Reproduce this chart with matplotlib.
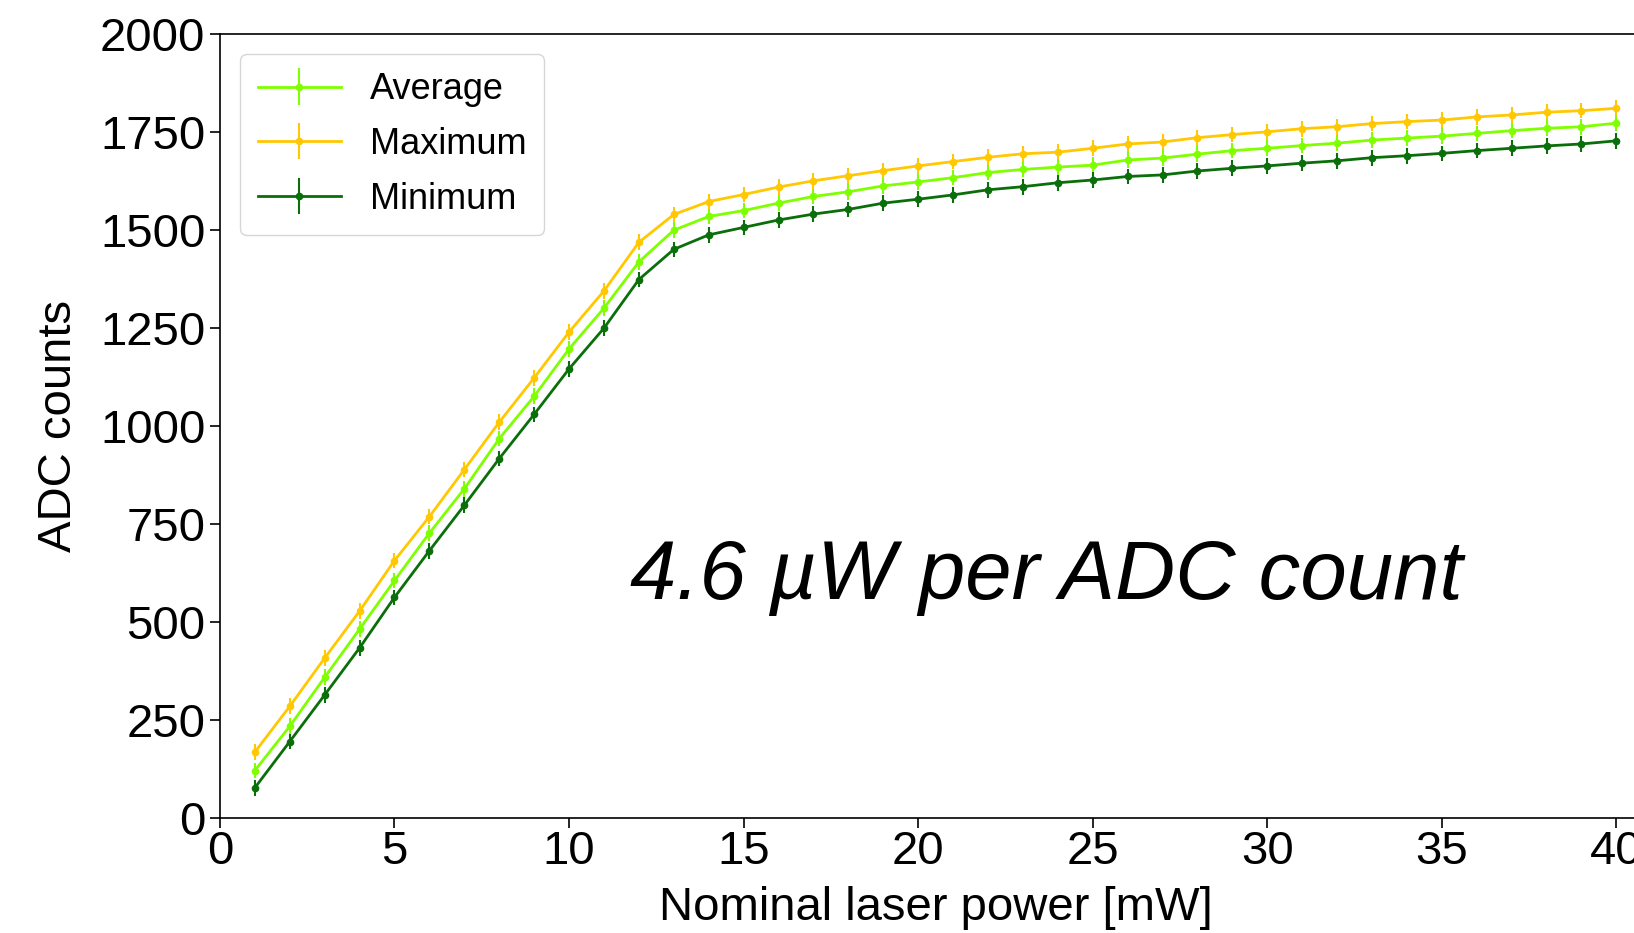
import matplotlib
matplotlib.use("Agg")
import matplotlib.pyplot as plt

# nominal laser power [mW]
power = list(range(1, 41))

adc_avg = [121, 234, 359, 482, 606, 727, 840, 968, 1076, 1197,
           1301, 1419, 1500, 1535, 1550, 1569, 1586, 1598, 1613, 1623,
           1634, 1647, 1655, 1661, 1666, 1679, 1684, 1694, 1703, 1709,
           1716, 1722, 1730, 1735, 1740, 1747, 1754, 1760, 1764, 1773]

adc_max = [168, 285, 408, 528, 657, 769, 889, 1010, 1123, 1240,
           1345, 1469, 1540, 1573, 1591, 1610, 1626, 1639, 1652, 1664,
           1675, 1686, 1695, 1699, 1709, 1720, 1725, 1736, 1744, 1751,
           1759, 1764, 1772, 1777, 1781, 1789, 1794, 1801, 1805, 1811]

adc_min = [77, 195, 314, 434, 563, 682, 798, 917, 1030, 1146,
           1250, 1374, 1451, 1488, 1507, 1526, 1541, 1553, 1569, 1579,
           1590, 1603, 1611, 1621, 1628, 1637, 1641, 1651, 1658, 1664,
           1671, 1677, 1685, 1690, 1696, 1703, 1709, 1715, 1720, 1728]

adc_err = 20

plt.rcParams['font.family'] = ['Liberation Sans', 'DejaVu Sans']

fig = plt.figure(figsize=(16.34, 9.33), dpi=100)
ax = fig.add_axes([0.1346, 0.1233, 0.876, 0.840])

ax.errorbar(power, adc_avg, yerr=adc_err, color='#7fff00', marker='.',
            markersize=9, linewidth=2, elinewidth=1.5, label='Average')
ax.errorbar(power, adc_max, yerr=adc_err, color='#ffc800', marker='.',
            markersize=9, linewidth=2, elinewidth=1.5, label='Maximum')
ax.errorbar(power, adc_min, yerr=adc_err, color='#0a6e0a', marker='.',
            markersize=9, linewidth=2, elinewidth=1.5, label='Minimum')

ax.set_xlim(0, 41)
ax.set_ylim(0, 2000)
ax.set_xticks(range(0, 41, 5))
ax.set_yticks(range(0, 2001, 250))
ax.tick_params(labelsize=34, length=7, width=1.2)
ax.tick_params(axis='x', pad=2)
for s in ax.spines.values():
    s.set_linewidth(1.2)

ax.set_xlabel('Nominal laser power [mW]', fontsize=34, labelpad=8)
ax.set_ylabel('ADC counts', fontsize=34, labelpad=14)

ax.text(11.75, 560, '4.6 µW per ADC count', fontsize=60, style='italic',
        va='baseline')

ax.legend(loc='upper left', fontsize=26, borderpad=0.5, labelspacing=0.55,
          handlelength=2.3, handletextpad=0.8, borderaxespad=0.55)

fig.savefig('out.png', dpi=100)
